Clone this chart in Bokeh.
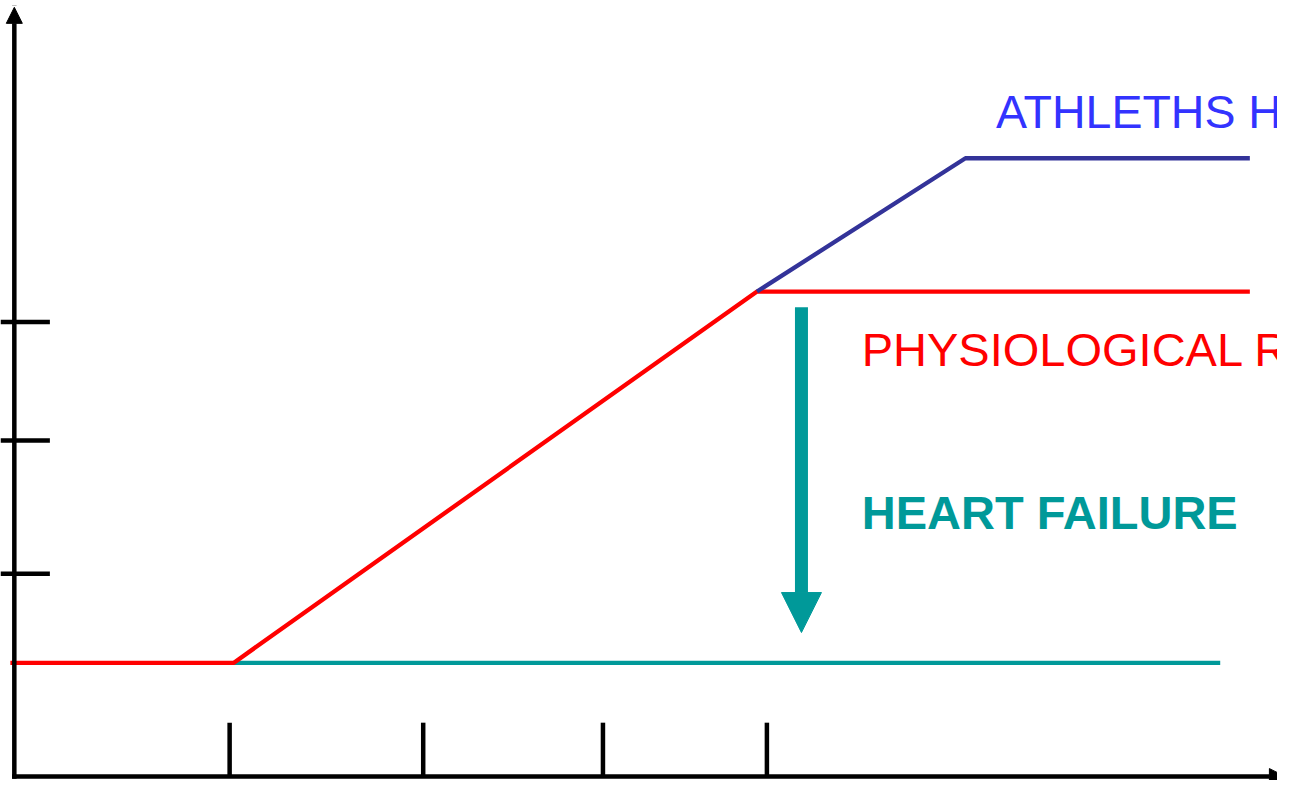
from bokeh.plotting import figure
from bokeh.models import Range1d, Arrow, NormalHead
from bokeh.core.properties import value
from bokeh.embed import file_html
from bokeh.resources import INLINE

# ---- data (abstract units, origin at the axes corner) ----
x_ticks = [218, 414, 596, 762]
y_ticks = [207, 343, 464]

physio_x = [-4, 222, 752, 1251]
physio_y = [116, 116, 495, 495]

athlete_x = [752, 963, 1251]
athlete_y = [495, 631, 631]

failure_x = [222, 1221]
failure_y = [116, 116]

hf_arrow_x = 797
hf_arrow_from = 479
hf_arrow_to = 147

axis_x_end = 1287
axis_y_end = 785

labels = ["ATHLETHS HEART", "PHYSIOLOGICAL RESPONSE", "HEART FAILURE"]
label_x = [994, 858, 858]
label_y = [678, 436, 269]

RED = "#FF0000"
NAVY = "#333399"
TEAL = "#009999"

p = figure(width=1277, height=780,
           x_range=Range1d(-14, 1279), y_range=Range1d(-4, 792),
           output_backend="svg", toolbar_location=None,
           min_border=0, min_border_left=0, min_border_right=0,
           min_border_top=0, min_border_bottom=0)
p.axis.visible = False
p.grid.visible = False
p.outline_line_color = None
p.background_fill_color = "white"
p.border_fill_color = "white"

# axes drawn as arrows
p.add_layout(Arrow(x_start=0, y_start=0, x_end=0, y_end=axis_y_end,
                   line_width=4.5, line_color="black", line_cap="square",
                   end=NormalHead(size=16, fill_color="black", line_color="black", line_width=1)))
p.add_layout(Arrow(x_start=0, y_start=0, x_end=axis_x_end, y_end=0,
                   line_width=4.5, line_color="black", line_cap="square",
                   end=NormalHead(size=16, fill_color="black", line_color="black", line_width=1)))

# ticks
p.segment(x0=[-14] * len(y_ticks), x1=[36] * len(y_ticks), y0=y_ticks, y1=y_ticks,
          line_width=4.5, line_color="black")
p.segment(x0=x_ticks, x1=x_ticks, y0=[0] * len(x_ticks), y1=[55] * len(x_ticks),
          line_width=4.5, line_color="black")

# curves
p.line(failure_x, failure_y, line_width=4.3, line_color=TEAL)
p.line(physio_x, physio_y, line_width=4.3, line_color=RED)
p.line(athlete_x, athlete_y, line_width=4.3, line_color=NAVY)

# heart failure arrow
p.add_layout(Arrow(x_start=hf_arrow_x, y_start=hf_arrow_from, x_end=hf_arrow_x, y_end=hf_arrow_to,
                   line_width=13, line_color=TEAL,
                   end=NormalHead(size=40, fill_color=TEAL, line_color=TEAL, line_width=1)))

# labels
p.text(x=[label_x[0]], y=[label_y[0]], text=[labels[0]], text_color="#3333FF",
       text_font=value("Liberation Sans"), text_font_size="46.5px", text_baseline="middle")
p.text(x=[label_x[1]], y=[label_y[1]], text=[labels[1]], text_color=RED,
       text_font=value("Liberation Sans"), text_font_size="47px", text_baseline="middle")
p.text(x=[label_x[2]], y=[label_y[2]], text=[labels[2]], text_color=TEAL,
       text_font=value("Liberation Sans"), text_font_size="47px", text_font_style="bold",
       text_baseline="middle")

open("out.html", "w").write(file_html(p, INLINE))
